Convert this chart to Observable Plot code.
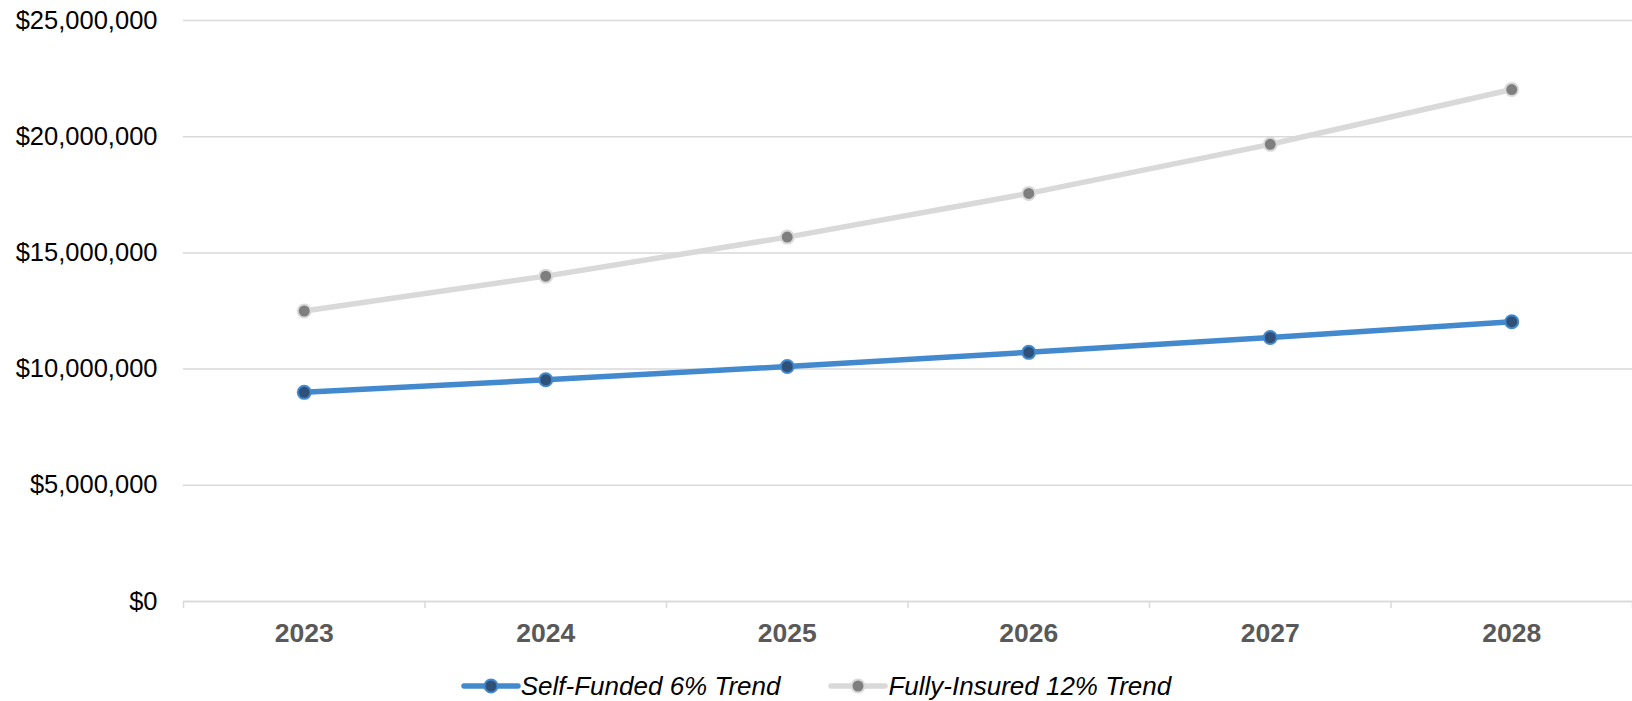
<!DOCTYPE html>
<html>
<head>
<meta charset="utf-8">
<script src="https://cdn.jsdelivr.net/npm/d3@7"></script>
<script src="https://cdn.jsdelivr.net/npm/@observablehq/plot@0.6"></script>
<style>
  html, body { margin: 0; padding: 0; background: #fff; }
  #chart { width: 1632px; height: 655px; }
  #legend { display: flex; justify-content: center; align-items: center; height: 62px; font-family: "Liberation Sans", Arial, sans-serif; font-style: italic; font-size: 26px; color: #000; padding-left: 0px; }
  .item { display: flex; align-items: center; margin: 0 24px; }
</style>
</head>
<body>
<div id="chart"></div>
<div id="legend"></div>
<script>
const years = [2023, 2024, 2025, 2026, 2027, 2028];
const selfFunded = [9000000, 9540000, 10110000, 10720000, 11360000, 12040000];
const fullyInsured = [12500000, 14000000, 15680000, 17560000, 19670000, 22030000];
const seriesNames = ["Self-Funded 6% Trend", "Fully-Insured 12% Trend"];
const yTicks = [0, 5000000, 10000000, 15000000, 20000000, 25000000];

const lineColors = ["#4389CE", "#D9D9D9"];
const dotFills = ["#2F5078", "#7F7F7F"];

const rows = [];
years.forEach((y, i) => {
  rows.push({year: y, value: selfFunded[i], series: seriesNames[0]});
  rows.push({year: y, value: fullyInsured[i], series: seriesNames[1]});
});
const boundaries = years.map(y => y - 0.5).concat([years[years.length - 1] + 0.5]);
const fmt = d => "$" + d3.format(",")(d);

const chart = Plot.plot({
  width: 1632,
  height: 655,
  marginLeft: 183,
  marginRight: 0,
  marginTop: 20,
  marginBottom: 54,
  style: {fontFamily: "'Liberation Sans', Arial, sans-serif", background: "#fff"},
  x: {domain: [boundaries[0], boundaries[boundaries.length - 1]]},
  y: {domain: [0, 25000000]},
  marks: [
    Plot.gridY(yTicks, {stroke: "#D9D9D9", strokeOpacity: 1, strokeWidth: 1.5}),
    Plot.axisY(yTicks, {tickSize: 0, tickPadding: 26, tickFormat: fmt, fontSize: 25.5, fill: "#000", label: null}),
    Plot.axisX(boundaries, {tickSize: 7, stroke: "#D9D9D9", strokeWidth: 1.5, tickFormat: () => "", label: null}),
    Plot.axisX(years, {tickSize: 0, tickPadding: 22, tickFormat: d => String(d), fontSize: 26.5, fontWeight: "bold", fill: "#595959", label: null}),
    Plot.ruleY([0], {stroke: "#D9D9D9", strokeWidth: 1.5}),
    Plot.line(rows.filter(d => d.series === seriesNames[1]), {x: "year", y: "value", stroke: lineColors[1], strokeWidth: 5.5}),
    Plot.line(rows.filter(d => d.series === seriesNames[0]), {x: "year", y: "value", stroke: lineColors[0], strokeWidth: 5.5}),
    Plot.dot(rows.filter(d => d.series === seriesNames[1]), {x: "year", y: "value", r: 6.5, fill: dotFills[1], stroke: lineColors[1], strokeWidth: 2}),
    Plot.dot(rows.filter(d => d.series === seriesNames[0]), {x: "year", y: "value", r: 6.5, fill: dotFills[0], stroke: lineColors[0], strokeWidth: 2})
  ]
});
document.getElementById("chart").appendChild(chart);

const legend = document.getElementById("legend");
seriesNames.forEach((name, i) => {
  const item = document.createElement("div");
  item.className = "item";
  item.innerHTML = `<svg width="60" height="20" style="margin-right:0px"><line x1="3" y1="10" x2="57" y2="10" stroke="${lineColors[i]}" stroke-width="5.5" stroke-linecap="round"/><circle cx="30" cy="10" r="6.5" fill="${dotFills[i]}" stroke="${lineColors[i]}" stroke-width="2"/></svg><span>${name}</span>`;
  legend.appendChild(item);
});
</script>
</body>
</html>
